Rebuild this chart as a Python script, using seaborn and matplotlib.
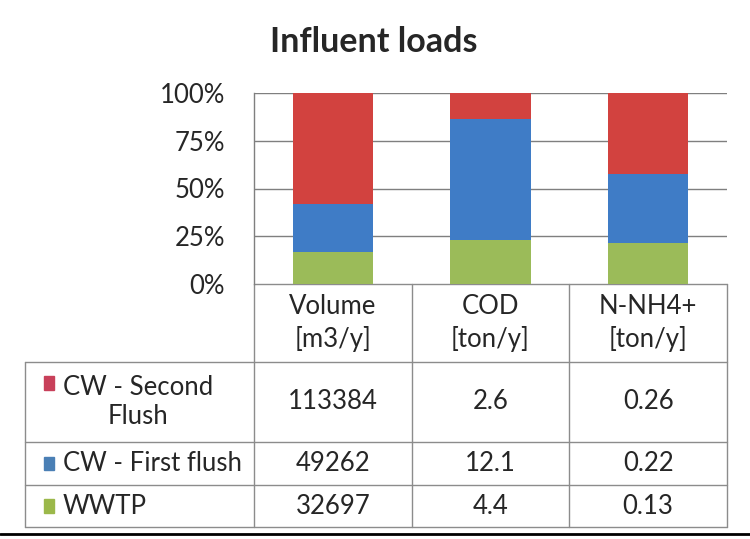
import numpy as np
import pandas as pd
import seaborn as sns
import matplotlib.pyplot as plt
from matplotlib.lines import Line2D
from matplotlib.patches import Rectangle

# data
categories = ["Volume", "COD", "N-NH4+"]
units = ["[m3/y]", "[ton/y]", "[ton/y]"]
series = ["CW - Second\nFlush", "CW - First flush", "WWTP"]
second_flush = [113384, 2.6, 0.26]
first_flush = [49262, 12.1, 0.22]
wwtp = [32697, 4.4, 0.13]
value_labels = [["113384", "2.6", "0.26"],
                ["49262", "12.1", "0.22"],
                ["32697", "4.4", "0.13"]]
colors = ["#D2423F", "#3F7CC6", "#9BBB59"]
key_colors = ["#C8405A", "#4A7FB5", "#9BB84A"]

df = pd.DataFrame({"cat": categories, "second": second_flush,
                   "first": first_flush, "wwtp": wwtp})
tot = df[["second", "first", "wwtp"]].sum(axis=1)
# 100% stacked: cumulative shares
df["c_wwtp"] = df["wwtp"] / tot * 100
df["c_first"] = (df["wwtp"] + df["first"]) / tot * 100
df["c_second"] = 100.0

sns.set_style("white")
plt.rcParams["font.family"] = ["Lato", "DejaVu Sans"]
fs = 18.5

fig = plt.figure(figsize=(7.5, 5.39), dpi=100)
ax = fig.add_axes([254 / 750, 1 - 284 / 539, 473 / 750, 191 / 539])

for col, c in zip(["c_second", "c_first", "c_wwtp"], colors):
    sns.barplot(data=df, x="cat", y=col, color=c, width=0.51, ax=ax,
                saturation=1, zorder=3, edgecolor="none")

ax.set_ylim(0, 100)
ax.set_xlim(-0.5, 2.5)
ax.set_yticks([0, 25, 50, 75, 100])
ax.set_yticklabels(["0%", "25%", "50%", "75%", "100%"], fontsize=fs)
ax.tick_params(axis="y", length=0, pad=21)
ax.set_xticks([])
ax.set_xlabel("")
ax.set_ylabel("")
for y in [25, 50, 75, 100]:
    ax.axhline(y, color="#7f7f7f", lw=1, zorder=1)
for s in ["top", "right", "bottom"]:
    ax.spines[s].set_visible(False)
ax.spines["left"].set_color("#7f7f7f")
ax.spines["left"].set_linewidth(1)

fig.text(374 / 750, 1 - 42 / 539, "Influent loads", ha="center", va="center",
         fontsize=24.5, fontweight="bold")

# data table below the plot (axes fractions in y, data units in x)
tr = ax.get_xaxis_transform()
h = 191
y_hdr = -(362 - 284) / h
y_r1 = -(442 - 284) / h
y_r2 = -(485 - 284) / h
y_r3 = -(527 - 284) / h
x_left = -0.5 - (254 - 25) / (473 / 3)
lc = "#8c8c8c"

def hline(x0, x1, y):
    ax.add_line(Line2D([x0, x1], [y, y], transform=tr, color=lc, lw=1, clip_on=False))

def vline(x, y0, y1):
    ax.add_line(Line2D([x, x], [y0, y1], transform=tr, color=lc, lw=1, clip_on=False))

hline(-0.5, 2.5, 0)
for y in [y_hdr, y_r1, y_r2, y_r3]:
    hline(x_left, 2.5, y)
for x in [-0.5, 0.5, 1.5, 2.5]:
    vline(x, 0, y_r3)
vline(x_left, y_hdr, y_r3)

for i, (cat, u) in enumerate(zip(categories, units)):
    ax.text(i, y_hdr / 2, cat + "\n" + u, transform=tr, ha="center", va="center",
            fontsize=fs, linespacing=1.3)

rows_y = [(y_hdr + y_r1) / 2, (y_r1 + y_r2) / 2, (y_r2 + y_r3) / 2]
for r, (name, yc) in enumerate(zip(series, rows_y)):
    for i in range(3):
        ax.text(i, yc, value_labels[r][i], transform=tr, ha="center", va="center",
                fontsize=fs)
    ky = yc + (0.1 if r == 0 else 0)
    ax.add_patch(Rectangle((x_left + 0.12, ky - 0.035), 0.065, 0.07, transform=tr,
                           color=key_colors[r], clip_on=False))
    ax.text(x_left + 0.24, yc, name, transform=tr, ha="left", va="center",
            fontsize=fs, multialignment="center", linespacing=1.2)

fig.add_artist(Line2D([0, 1], [1 - 534 / 539, 1 - 534 / 539], transform=fig.transFigure,
                      color="black", lw=2))

fig.savefig("out.png", dpi=100)
